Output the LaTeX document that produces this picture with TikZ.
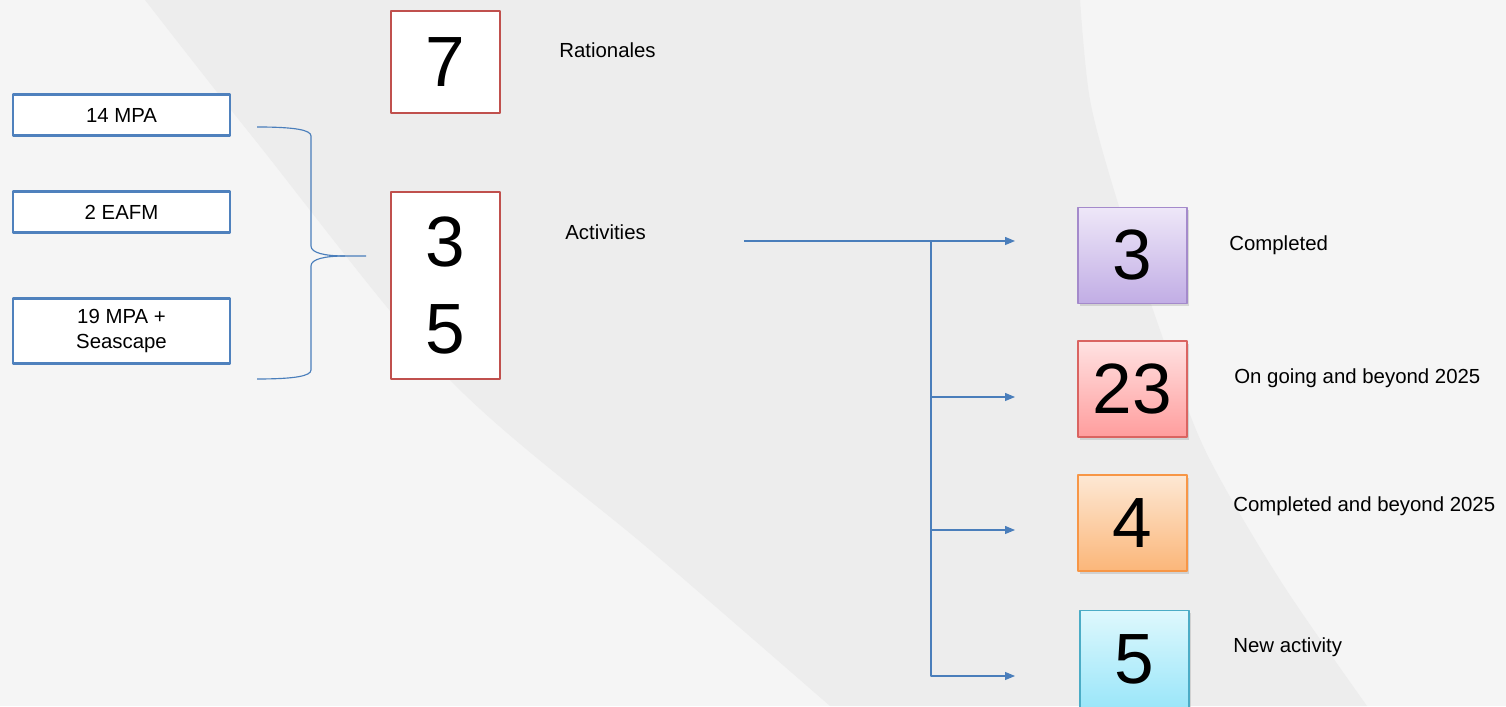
\documentclass[tikz,border=0pt]{standalone}
\usepackage{xcolor}
\usepackage{fontspec}
\setmainfont{Liberation Sans}
\usepackage{tikz}
\usetikzlibrary{positioning,shadows,arrows.meta}

\definecolor{bgbase}{HTML}{F5F5F5}
\definecolor{bgband}{HTML}{EDEDED}
\definecolor{srcblue}{HTML}{4F81BD}
\definecolor{numred}{HTML}{C0504D}
\definecolor{linkblue}{HTML}{4A7EBB}
\definecolor{donetop}{HTML}{EEE7F8}
\definecolor{donebot}{HTML}{C1ADE5}
\definecolor{doneline}{HTML}{A48ACB}
\definecolor{ongotop}{HTML}{FFE2E2}
\definecolor{ongobot}{HTML}{FF9D9D}
\definecolor{ongoline}{HTML}{DA6461}
\definecolor{latertop}{HTML}{FDE8D4}
\definecolor{laterbot}{HTML}{FBB679}
\definecolor{laterline}{HTML}{F79646}
\definecolor{freshtop}{HTML}{DEF8FD}
\definecolor{freshbot}{HTML}{9BE6F9}
\definecolor{freshline}{HTML}{4BACC6}

\begin{document}
\begin{tikzpicture}[
    numbox/.style = {
        rectangle,
        fill=white,
        minimum width=2.18cm,
        align=center,
        inner sep=0pt,
        font=\fontsize{40.5}{49}\selectfont
    },
    srcbox/.style  = {numbox, draw=srcblue, line width=1.7pt, minimum width=4.34cm,
                      minimum height=0.82cm, font=\fontsize{11.6}{14.7}\selectfont},
    ratbox/.style  = {numbox, draw=numred, line width=1.5pt},
    resbox/.style  = {numbox, line width=0.7pt, minimum height=1.92cm,
                      drop shadow={shadow xshift=0.3mm, shadow yshift=-0.6mm, opacity=0.25}},
    done/.style    = {resbox, draw=doneline,  top color=donetop,  bottom color=donebot},
    ongo/.style    = {resbox, draw=ongoline,  top color=ongotop,  bottom color=ongobot},
    later/.style   = {resbox, draw=laterline, top color=latertop, bottom color=laterbot},
    fresh/.style   = {resbox, draw=freshline, top color=freshtop, bottom color=freshbot},
    tag/.style     = {anchor=west, inner sep=0pt, font=\fontsize{11.6}{14}\selectfont},
    link/.style    = {line width=0.65pt, draw=linkblue},
    arrow/.style   = {link, -{Triangle[length=2mm,width=1.6mm]}},
    line cap=butt, line join=round
]

% background
\useasboundingbox (0,0) rectangle (30.12,14.12);
\fill[bgbase] (0,0) rectangle (30.12,14.12);
\fill[bgband] plot[smooth] coordinates {(2.90,14.12) (5.10,11.32) (9.00,6.52) (13.00,3.12) (16.60,0)}
    -- plot[smooth] coordinates {(27.34,0) (25.60,2.52) (24.10,5.12) (23.20,7.52) (22.34,10.12) (21.80,12.12) (21.60,14.12)}
    -- cycle;

\node[srcbox] (mpa)     at (2.43,11.81) {14 MPA};
\node[srcbox] (eafm)    at (2.43,9.87)  {2 EAFM};
\node[srcbox, minimum height=1.30cm] (seascape) at (2.43,7.50) {19 MPA +\\Seascape};

\node[ratbox, minimum height=2.04cm] (rat) at (8.91,12.88) {7};
\node[ratbox, minimum height=3.74cm] (act) at (8.91,8.41)  {3\\5};

\node[tag] (rattag) at (11.18,13.12) {Rationales};
\node[tag] (acttag) at (11.30,9.48)  {Activities};

\node[done]  (nd)  at (22.65,9.01) {3};
\node[ongo]  (ng)  at (22.65,6.34) {23};
\node[later] (nl)  at (22.65,3.66) {4};
\node[fresh, minimum height=1.94cm] (nf) at (22.69,0.94) {5};

\node[tag] (ndtag) at (24.58,9.22) {Completed};
\node[tag] (ngtag) at (24.68,6.56) {On going and beyond 2025};
\node[tag] (nltag) at (24.66,4.00) {Completed and beyond 2025};
\node[tag] (nftag) at (24.66,1.18) {New activity};

% brace
\draw[link] (5.14,11.58) .. controls (5.90,11.58) and (6.22,11.52) .. (6.22,11.40)
    -- (6.22,9.20) .. controls (6.22,9.06) and (6.50,9.00) .. (6.90,9.00) -- (7.32,9.00);
\draw[link] (6.90,9.00) .. controls (6.50,9.00) and (6.22,8.94) .. (6.22,8.80)
    -- (6.22,6.72) .. controls (6.22,6.60) and (5.90,6.54) .. (5.14,6.54);

% activity split
\coordinate (trunk) at (14.88,9.30);
\coordinate (split) at (18.62,9.30);
\coordinate (hit1)  at (20.30,9.30);
\coordinate (hit2)  at (20.30,6.18);
\coordinate (hit3)  at (20.30,3.52);
\coordinate (hit4)  at (20.30,0.60);

\draw[arrow] (trunk) -- (hit1);
\draw[arrow] (split) |- (hit4);
\draw[arrow] (split |- hit2) -- (hit2);
\draw[arrow] (split |- hit3) -- (hit3);

\end{tikzpicture}
\end{document}
